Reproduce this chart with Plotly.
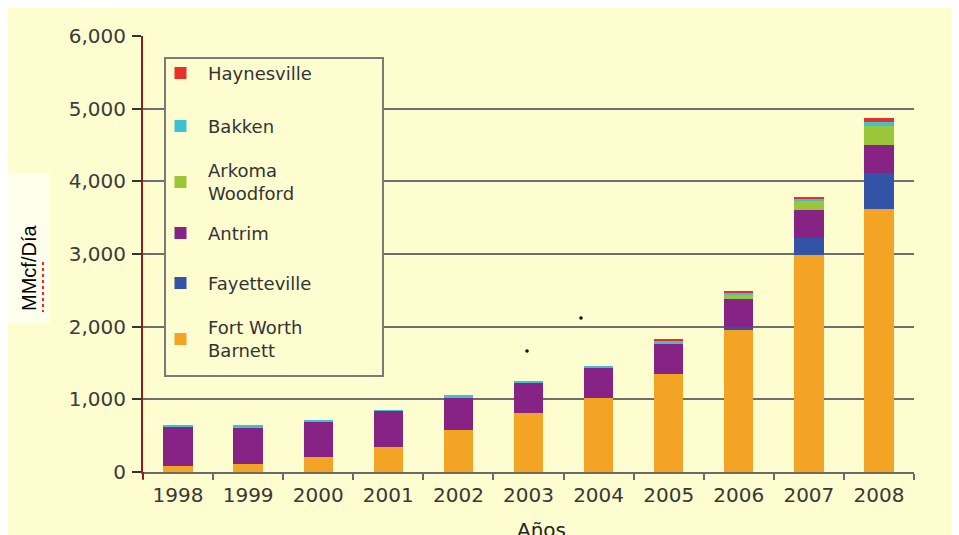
import plotly.graph_objects as go

# ---- data (MMcf/día) ----
years = ["1998", "1999", "2000", "2001", "2002", "2003", "2004", "2005", "2006", "2007", "2008"]
fort_worth_barnett = [80, 105, 200, 340, 575, 815, 1020, 1355, 1950, 2985, 3625]
fayetteville = [0, 0, 0, 0, 0, 0, 0, 0, 40, 240, 490]
antrim = [545, 495, 500, 500, 450, 420, 405, 405, 385, 380, 380]
arkoma_woodford = [0, 0, 0, 0, 0, 0, 0, 0, 60, 125, 260]
bakken = [15, 40, 10, 10, 35, 20, 30, 45, 30, 25, 60]
haynesville = [0, 0, 0, 0, 0, 0, 0, 20, 25, 35, 55]

series_names = ["Fort Worth Barnett", "Fayetteville", "Antrim", "Arkoma Woodford", "Bakken", "Haynesville"]
legend_labels = ["Fort Worth<br>Barnett", "Fayetteville", "Antrim", "Arkoma<br>Woodford", "Bakken", "Haynesville"]
series_values = [fort_worth_barnett, fayetteville, antrim, arkoma_woodford, bakken, haynesville]
colors = ["#F4A424", "#3253A6", "#862384", "#9CC63A", "#3EC0D2", "#E8302A"]

y_ticks = [0, 1000, 2000, 3000, 4000, 5000, 6000]
y_tick_text = ["0", "1,000", "2,000", "3,000", "4,000", "5,000", "6,000"]

# ---- layout geometry (the page has an 8px body margin at top/left) ----
OFF = 8
W, H = 959 - OFF, 535 - OFF
L, R, T, B = 143 - OFF, 45, 36 - OFF, 63
PW, PH = W - L - R, H - T - B


def px(x):  # page pixel -> paper x
    return (x - OFF - L) / PW


def py(y):  # page pixel -> paper y
    return (H - B - (y - OFF)) / PH


fig = go.Figure()
for name, vals, col in zip(series_names, series_values, colors):
    fig.add_trace(go.Bar(x=years, y=vals, name=name, marker=dict(color=col, line=dict(width=0)),
                         showlegend=False))

shapes = []
annotations = []

# y-title box
shapes.append(dict(type="rect", xref="paper", yref="paper", x0=px(8), x1=px(50), y0=py(173), y1=py(323),
                   fillcolor="#FFFFEE", line=dict(width=0), layer="below"))
shapes.append(dict(type="line", xref="paper", yref="paper", x0=px(43), x1=px(43), y0=py(262), y1=py(312),
                   line=dict(color="#FF2020", width=2, dash="dot")))
annotations.append(dict(text="MMcf/Día", xref="paper", yref="paper", x=px(29), y=py(268), textangle=-90,
                        showarrow=False, xanchor="center", yanchor="middle",
                        font=dict(family="Liberation Sans, Arial", size=20, color="#000000")))

# y-axis line continues slightly below the x axis
shapes.append(dict(type="line", xref="paper", yref="paper", x0=px(143), x1=px(143), y0=py(472), y1=py(479),
                   line=dict(color="#8E1C1C", width=2)))

# legend box (drawn manually to match spacing)
shapes.append(dict(type="rect", xref="paper", yref="paper", x0=px(165), x1=px(383), y0=py(58), y1=py(376),
                   fillcolor="#FEFDCF", line=dict(color="#7A7A7A", width=2), layer="above"))
legend_rows = [73, 126, 182, 233, 283, 339]
order = [5, 4, 3, 2, 1, 0]
for row_y, idx in zip(legend_rows, order):
    shapes.append(dict(type="rect", xref="paper", yref="paper", x0=px(174.5), x1=px(186.5),
                       y0=py(row_y - 6), y1=py(row_y + 6), fillcolor=colors[idx], line=dict(width=0),
                       layer="above"))
    annotations.append(dict(text=legend_labels[idx], xref="paper", yref="paper", x=px(206), y=py(row_y),
                            xanchor="left", yanchor="middle", align="left", showarrow=False,
                            font=dict(family="DejaVu Sans, Verdana", size=18, color="#333333")))

# stray dots seen in the original
for dx, dy in [(527, 351), (581, 318)]:
    shapes.append(dict(type="circle", xref="paper", yref="paper", x0=px(dx - 1.8), x1=px(dx + 1.8),
                       y0=py(dy - 1.8), y1=py(dy + 1.8), fillcolor="#111111", line=dict(width=0)))

# x-axis title (partly cut off at the bottom as in the original)
annotations.append(dict(text="Años", xref="paper", yref="paper", x=px(541), y=py(516), xanchor="center",
                        yanchor="top", showarrow=False,
                        font=dict(family="DejaVu Sans, Verdana", size=20, color="#222222")))

fig.update_layout(
    width=W, height=H,
    margin=dict(l=L, r=R, t=T, b=B, pad=0),
    barmode="stack",
    bargap=0.58,
    paper_bgcolor="#FEFDCF",
    plot_bgcolor="rgba(0,0,0,0)",
    showlegend=False,
    shapes=shapes,
    annotations=annotations,
    xaxis=dict(
        type="category", categoryorder="array", categoryarray=years,
        showline=True, linecolor="#6A6A6A", linewidth=2,
        ticks="outside", tickson="boundaries", ticklen=6, tickcolor="#6A6A6A", tickwidth=2,
        showgrid=False, zeroline=False,
        tickfont=dict(family="DejaVu Sans, Verdana", size=20, color="#383838"),
        ticklabelstandoff=4,
    ),
    yaxis=dict(
        range=[0, 6000], tickvals=y_ticks, ticktext=y_tick_text,
        showline=True, linecolor="#8E1C1C", linewidth=2,
        ticks="outside", ticklen=9, tickcolor="#333333", tickwidth=2,
        showgrid=True, gridcolor="#6E6E6E", gridwidth=2, zeroline=False,
        tickfont=dict(family="DejaVu Sans, Verdana", size=20, color="#3A3A3A"),
        ticklabelstandoff=2,
    ),
)

fig.write_html("out.html")
